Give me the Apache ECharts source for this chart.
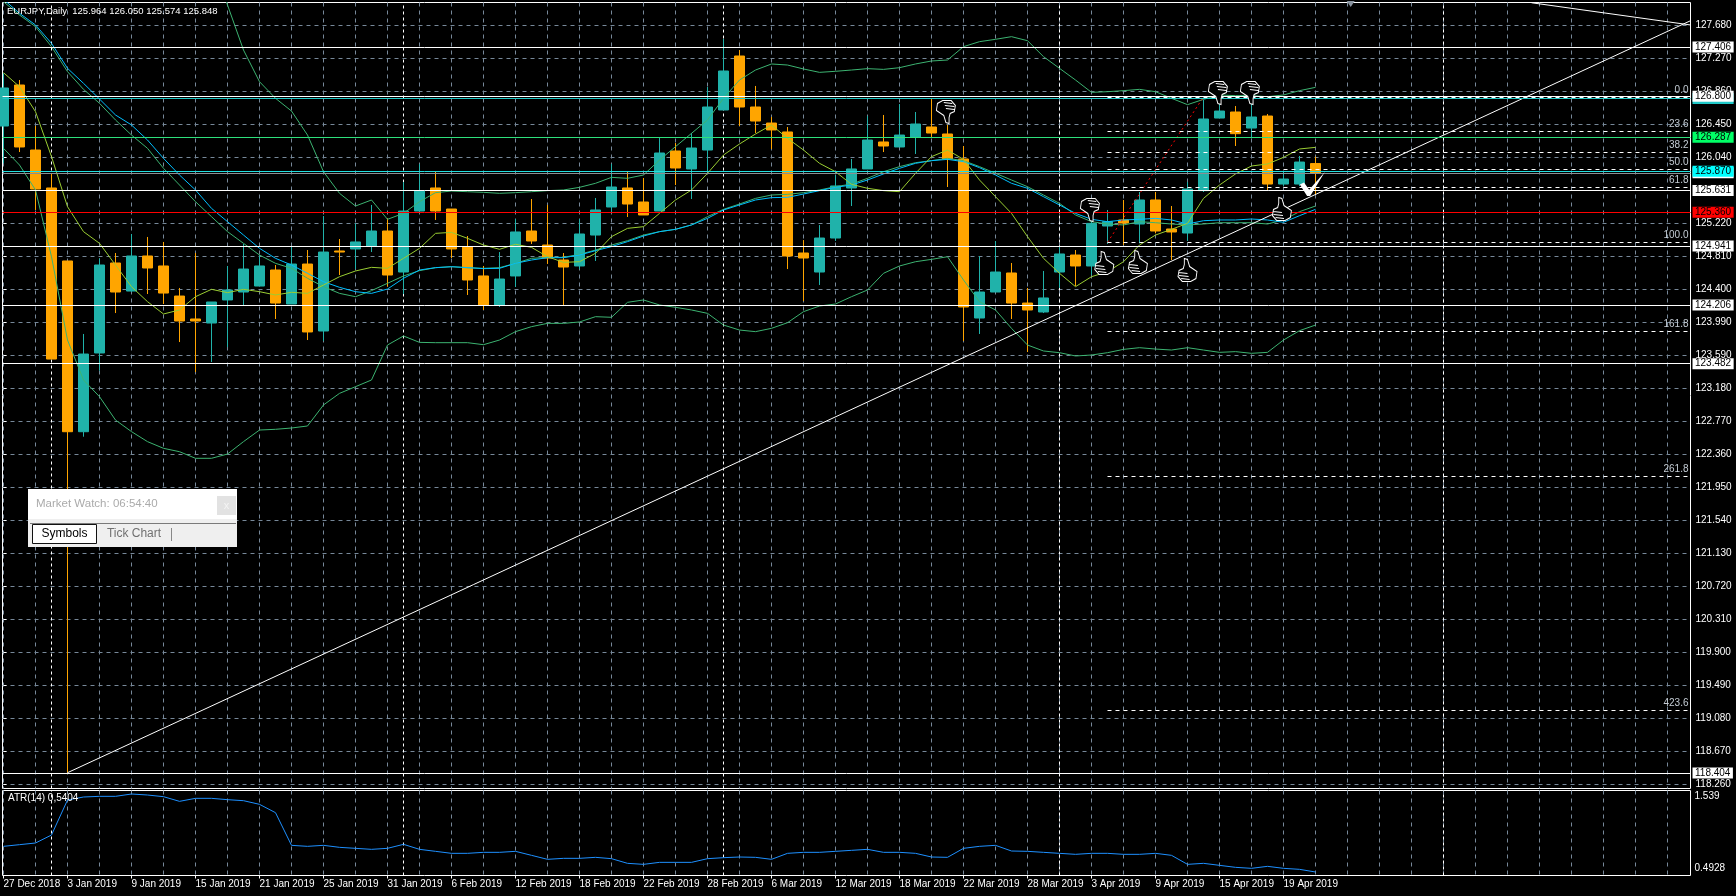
<!DOCTYPE html>
<html><head><meta charset="utf-8"><title>EURJPY,Daily</title>
<style>html,body{margin:0;padding:0;background:#000}#c{width:1736px;height:896px}</style>
<script src="https://cdn.jsdelivr.net/npm/echarts@6/dist/echarts.min.js"></script></head>
<body><div id="c"></div><script>
const dateLabels=['27 Dec 2018','3 Jan 2019','9 Jan 2019','15 Jan 2019','21 Jan 2019','25 Jan 2019','31 Jan 2019','6 Feb 2019','12 Feb 2019','18 Feb 2019','22 Feb 2019','28 Feb 2019','6 Mar 2019','12 Mar 2019','18 Mar 2019','22 Mar 2019','28 Mar 2019','3 Apr 2019','9 Apr 2019','15 Apr 2019','19 Apr 2019'];
const priceTicks=[127.68,127.27,126.86,126.45,126.04,125.63,125.22,124.81,124.40,123.99,123.59,123.18,122.77,122.36,121.95,121.54,121.13,120.72,120.31,119.90,119.49,119.08,118.67,118.26];
const atrTicks=[1.539,0.4928];
const candleOpen=[126.430,126.939,126.132,125.661,124.755,122.636,123.613,124.730,124.382,124.817,124.693,124.320,124.035,123.985,124.271,124.370,124.444,124.643,124.221,124.717,123.886,124.879,124.904,124.941,125.127,124.618,125.375,125.661,125.400,124.928,124.569,124.209,124.569,125.127,124.953,124.767,124.693,125.077,125.425,125.661,125.487,125.375,126.120,125.897,126.132,126.629,127.299,126.666,126.467,126.356,124.854,124.618,125.040,125.661,125.897,126.232,126.170,126.294,126.418,126.331,126.021,124.047,124.370,124.606,124.233,124.122,124.618,124.829,124.693,125.189,125.264,125.214,125.512,125.152,125.102,125.628,126.529,126.604,126.405,126.554,125.710,125.710,125.964];
const candleClose=[126.902,126.170,125.648,123.538,122.636,123.600,124.705,124.370,124.817,124.668,124.357,124.010,124.010,124.246,124.395,124.655,124.693,124.233,124.717,123.874,124.866,124.866,124.991,125.127,124.581,125.375,125.628,125.375,124.904,124.519,124.209,124.531,125.115,125.003,124.792,124.680,125.090,125.388,125.673,125.462,125.326,126.095,125.909,126.157,126.666,127.113,126.666,126.492,126.381,124.817,124.792,125.040,125.686,125.897,126.256,126.182,126.318,126.455,126.343,126.021,124.184,124.370,124.618,124.233,124.147,124.296,124.842,124.693,125.222,125.243,125.226,125.512,125.127,125.115,125.648,126.517,126.616,126.335,126.542,125.710,125.772,125.983,125.848];
const candleLow=[125.967,126.107,125.388,123.538,118.404,122.574,123.394,124.109,124.370,124.345,124.221,123.749,123.377,123.501,123.687,124.209,124.444,124.035,124.221,123.774,123.762,124.581,124.655,124.866,124.436,124.345,125.375,125.264,124.792,124.333,124.147,124.184,124.432,124.966,124.718,124.209,124.655,124.755,125.363,125.301,125.326,125.375,125.698,125.524,125.872,126.629,126.430,126.343,126.145,124.655,124.258,124.457,125.003,125.437,125.897,126.107,126.170,126.083,126.294,125.673,123.762,123.849,124.370,124.035,123.625,124.109,124.420,124.444,124.581,124.966,124.953,124.974,125.098,124.767,125.003,125.611,126.529,126.182,126.277,125.636,125.686,125.686,125.574];
const candleHigh=[127.084,127.001,126.430,125.843,124.755,123.849,124.788,124.854,125.090,125.053,124.991,124.420,124.854,124.246,124.693,124.966,124.829,124.705,124.933,124.891,125.313,125.028,125.222,125.450,125.284,125.735,125.959,125.859,125.400,125.065,124.693,124.866,125.276,125.524,125.450,124.854,125.276,125.537,125.959,125.859,125.785,126.281,126.219,126.343,126.914,127.510,127.373,126.927,126.542,126.418,125.015,125.201,125.822,126.021,126.554,126.567,126.703,126.604,126.778,126.443,126.182,124.817,125.003,124.730,124.420,124.631,124.933,124.891,125.388,125.388,125.512,125.611,125.611,125.437,125.735,126.753,126.815,126.678,126.898,126.579,125.863,126.058,126.050];
const fastMA=[127.092,126.918,126.608,126.050,125.429,125.119,124.974,124.705,124.436,124.250,124.097,124.147,124.312,124.403,124.362,124.403,124.374,124.333,124.366,124.353,124.457,124.560,124.631,124.676,124.664,124.788,124.912,125.098,125.110,125.036,124.953,124.900,124.962,124.924,124.808,124.738,124.746,124.850,125.057,125.160,125.181,125.346,125.512,125.636,125.843,126.070,126.207,126.331,126.443,126.277,126.132,125.967,125.863,125.706,125.657,125.628,125.615,125.843,126.050,126.132,126.016,125.760,125.553,125.346,125.057,124.788,124.602,124.436,124.560,124.622,124.746,124.953,125.077,125.148,125.222,125.532,125.698,125.835,125.934,125.959,126.041,126.145,126.165];
const slowMA=[128.002,127.829,127.684,127.456,127.146,126.960,126.765,126.567,126.443,126.256,126.029,125.822,125.636,125.408,125.243,125.077,124.912,124.788,124.705,124.602,124.498,124.428,124.374,124.353,124.407,124.540,124.643,124.672,124.684,124.672,124.660,124.664,124.726,124.767,124.796,124.796,124.829,124.883,124.933,124.995,125.065,125.119,125.148,125.202,125.284,125.388,125.450,125.512,125.541,125.545,125.586,125.628,125.669,125.698,125.760,125.835,125.905,125.967,126.000,126.016,125.988,125.913,125.822,125.719,125.657,125.553,125.450,125.346,125.272,125.243,125.264,125.272,125.284,125.264,125.214,125.255,125.264,125.264,125.276,125.264,125.235,125.317,125.396];
const bandMid=[127.973,127.808,127.663,127.415,127.105,126.885,126.712,126.505,126.318,126.153,125.905,125.698,125.491,125.305,125.119,124.974,124.829,124.726,124.664,124.540,124.436,124.353,124.312,124.387,124.478,124.569,124.635,124.672,124.684,124.672,124.664,124.672,124.726,124.788,124.800,124.800,124.837,124.891,124.953,125.007,125.077,125.119,125.148,125.202,125.305,125.396,125.462,125.532,125.574,125.582,125.603,125.636,125.677,125.710,125.781,125.863,125.926,125.975,126.000,126.029,126.000,125.926,125.843,125.760,125.677,125.574,125.470,125.326,125.243,125.214,125.202,125.243,125.230,125.214,125.202,125.214,125.230,125.230,125.230,125.214,125.264,125.367,125.437];
const bandUpper=[null,null,null,null,null,null,null,null,null,null,null,null,null,128.470,127.932,127.373,126.980,126.774,126.616,126.318,125.863,125.595,125.437,125.512,125.272,125.346,125.491,125.603,125.623,125.615,125.607,125.595,125.603,125.615,125.628,125.636,125.669,125.719,125.793,125.781,125.822,126.008,126.174,126.339,126.505,126.774,127.001,127.125,127.200,127.187,127.138,127.096,127.109,127.125,127.142,127.133,127.154,127.200,127.237,127.249,127.415,127.477,127.506,127.539,127.489,127.291,127.146,127.001,126.848,126.856,126.869,126.885,126.856,126.774,126.695,126.761,126.815,126.807,126.807,126.794,126.815,126.869,126.910];
const bandLower=[126.153,125.946,125.636,124.808,123.774,123.278,123.071,122.781,122.637,122.513,122.430,122.388,122.306,122.306,122.359,122.513,122.657,122.666,122.682,122.707,122.968,123.112,123.195,123.278,123.712,123.824,123.745,123.741,123.741,123.741,123.716,123.774,123.878,123.940,123.981,123.981,123.998,124.064,124.056,124.242,124.271,124.209,124.180,124.147,124.105,123.960,123.898,123.878,123.919,123.989,124.126,124.196,124.221,124.312,124.395,124.602,124.693,124.746,124.775,124.808,124.519,124.250,124.147,123.919,123.712,123.638,123.617,123.576,123.588,123.617,123.658,123.679,123.662,123.650,123.679,123.650,123.621,123.630,123.609,123.621,123.774,123.890,123.960];
const atrValues=[.8159,.8400,.8640,.9797,1.4854,1.5288,1.5384,1.5384,1.5721,1.5577,1.5336,1.4662,1.5095,1.5095,1.4903,1.4758,1.4228,1.3024,.8303,.8159,.8303,.8014,.7870,.7725,.7870,.8448,.7725,.7436,.7147,.7147,.7292,.7292,.7436,.6858,.6280,.6425,.6425,.6569,.6377,.5702,.5557,.5846,.5846,.5846,.6377,.6521,.6617,.6569,.6280,.7147,.7292,.7292,.7436,.7581,.7725,.7292,.7292,.7147,.6617,.6569,.7870,.8159,.8303,.7484,.7436,.7292,.7147,.7003,.7147,.7147,.7003,.7003,.7147,.6858,.5557,.5702,.5413,.5124,.4980,.5269,.4980,.4835,.4450];
const periodSeparators=[3,25,45,66,90];
const whiteLevels=[127.406,126.800,125.631,124.941,124.206,123.482,118.404];
const fibLevels=[126.790,126.364,126.104,125.893,125.669,124.987,123.882,122.083,119.178];
const fibNames=['0.0','23.6','38.2','50.0','61.8','100.0','161.8','261.8','423.6'];
const fibRange=[[69,124.987],[75,126.790]];
const trendUp=[[4,118.404],[105.44,127.737]];
const trendDown=[[95.5,127.960],[105.44,127.684]];
const thumbsDown=[[58.9,126.604],[67.9,125.388],[75.9,126.840],[77.9,126.840]];
const thumbsUp=[[68.8,124.730],[70.9,124.742],[74,124.643],[79.9,125.400]];
const checkMark=[[81.8,125.710]];
const topArrow=[[84.2,127.944]];

const FONT='"Liberation Sans",sans-serif';
const FS=10;
const GRID='#778899';
const X_MIN=-0.0625,X_MAX=105.4375;
const evenTicks=[];for(let i=0;i<=104;i+=2)evenTicks.push(i);
const labelTicks=dateLabels.map((_,i)=>i*4);
const ohlc=candleOpen.map((o,i)=>[i,o,candleClose[i],candleLow[i],candleHigh[i]]);
const pts=a=>a.map((v,i)=>[i,v]);
const THUMB='path://M6 0L9 1L11 8L18 13L17 20L12 23L4 23L0 18L1 12L5 10L6 6ZM1 14L9 15M1 17L10 18M3 20L11 21';
const TICK='path://M0 12L4 10L9 17L24 0L10 23L7 23Z';

function line(name,data,color,z,extra){return Object.assign({name,type:'line',data,symbol:'none',showSymbol:false,silent:true,z:z||4,clip:true,lineStyle:{color,width:1},connectNulls:false},extra||{});}
function level(value,lineColor,bg,txt){
  return {yAxis:value,lineStyle:{color:lineColor,width:1,type:'solid'},label:{show:true,position:'end',distance:2,formatter:value.toFixed(3),color:txt||'#000',backgroundColor:bg,padding:[0,2.5,0,2.5],lineHeight:11,fontSize:FS,fontFamily:FONT}};
}
const levels=whiteLevels.map(v=>level(v,'#fff','#fff'));
const option={
 backgroundColor:'#000',animation:false,
 title:[
  {text:'EURJPY,Daily  125.964 126.050 125.574 125.848',left:7,top:5,padding:0,textStyle:{color:'#fff',fontSize:9.5,fontWeight:'normal',fontFamily:FONT,lineHeight:12}},
  {text:'ATR(14) 0,5404',left:8,top:792,padding:0,textStyle:{color:'#fff',fontSize:FS,fontWeight:'normal',fontFamily:FONT,lineHeight:12}}
 ],
 grid:[
  {left:2.5,top:2.5,width:1688,height:786,show:true,borderColor:'#fff',borderWidth:1,backgroundColor:'#000'},
  {left:2.5,top:790.5,width:1688,height:85,show:true,borderColor:'#fff',borderWidth:1,backgroundColor:'#000'}
 ],
 xAxis:[
  {type:'value',gridIndex:0,min:X_MIN,max:X_MAX,axisLine:{show:false},axisTick:{show:false,customValues:evenTicks},axisLabel:{show:false,customValues:evenTicks},splitLine:{show:true,lineStyle:{color:GRID,type:[4,4],width:1}}},
  {type:'value',gridIndex:1,min:X_MIN,max:X_MAX,axisLine:{show:false},axisTick:{show:false,customValues:evenTicks},axisLabel:{show:false,customValues:evenTicks},splitLine:{show:true,lineStyle:{color:GRID,type:[4,4],width:1}}},
  {type:'value',gridIndex:1,position:'bottom',min:X_MIN,max:X_MAX,axisLine:{show:false},axisTick:{show:true,length:3,inside:false,customValues:labelTicks,lineStyle:{color:'#fff'}},
   axisLabel:{show:true,customValues:labelTicks,margin:4,align:'left',color:'#fff',fontSize:FS,fontFamily:FONT,hideOverlap:false,showMinLabel:true,showMaxLabel:true,formatter:v=>dateLabels[Math.round(v/4)]||''},splitLine:{show:false}}
 ],
 yAxis:[
  {type:'value',gridIndex:0,position:'right',min:118.208,max:127.963,axisLine:{show:false},axisTick:{show:true,length:3,customValues:priceTicks,lineStyle:{color:'#fff'}},
   axisLabel:{customValues:priceTicks,margin:5,padding:[2,0,0,0],color:'#fff',fontSize:FS,fontFamily:FONT,align:'left',hideOverlap:false,showMinLabel:true,showMaxLabel:true,formatter:v=>v.toFixed(3)},splitLine:{show:true,lineStyle:{color:GRID,type:[4,4],width:1}}},
  {type:'value',gridIndex:1,position:'right',min:0.3945,max:1.6228,axisLine:{show:false},axisTick:{show:false,customValues:atrTicks},
   axisLabel:{customValues:atrTicks,margin:4,color:'#fff',fontSize:FS,fontFamily:FONT,align:'left',hideOverlap:false,formatter:v=>String(v)},splitLine:{show:false}}
 ],
 series:[
  {name:'EURJPY',type:'candlestick',xAxisIndex:0,yAxisIndex:0,z:3,silent:true,barWidth:10,data:ohlc,clip:true,
   encode:{x:0,y:[1,2,3,4]},
   itemStyle:{color:'#20B2AA',color0:'#FFA500',borderColor:'#20B2AA',borderColor0:'#FFA500',borderWidth:1}},
  line('separators',[],'#fff',1,{markLine:{silent:true,symbol:'none',z:1,animation:false,label:{show:false},lineStyle:{color:'#fff',type:[3,3],width:1},data:periodSeparators.map(x=>({xAxis:x}))}}),
  line('atrSeparators',[],'#fff',1,{xAxisIndex:1,yAxisIndex:1,markLine:{silent:true,symbol:'none',z:1,animation:false,label:{show:false},lineStyle:{color:'#fff',type:[3,3],width:1},data:periodSeparators.map(x=>({xAxis:x}))}}),
  line('BB upper',pts(bandUpper),'#3CB371'),
  line('BB lower',pts(bandLower),'#3CB371'),
  line('BB mid',pts(bandMid),'#3CB371'),
  line('Slow MA',pts(slowMA),'#00BFFF'),
  line('Fast MA',pts(fastMA),'#9ACD32'),
  line('Fib range',fibRange,'#FF0000',5,{lineStyle:{color:'#FF0000',width:1,type:[2,3]}}),
  line('Trend up',trendUp,'#fff',5),
  line('Trend down',trendDown,'#fff',5),
  line('levels',[],'#fff',5,{markLine:{silent:true,symbol:'none',z:6,animation:false,data:[
    level(126.767,'#20C8C8','#20C8C8'),
    level(125.848,'#8A8F94','#fff'),
    ...levels,
    level(125.870,'#20E0E0','#00FFFF'),
    level(126.287,'#2EE07C','#00FF66'),
    level(125.360,'#FF0000','#FF0000')
  ]}}),
  line('Fibonacci',[],'#fff',5,{markLine:{silent:true,symbol:'none',z:6,animation:false,data:fibLevels.map((v,i)=>[
    {coord:[69,v],lineStyle:{color:'#fff',type:[4,4],width:1},label:{show:true,position:'insideEndTop',distance:2,formatter:fibNames[i],color:'#C4CCD4',fontSize:FS,fontFamily:FONT}},
    {coord:[X_MAX,v]}
  ])}}),
  {name:'Thumb up',type:'scatter',z:7,silent:true,symbol:THUMB,symbolSize:[19,23],itemStyle:{color:'#000',borderColor:'#fff',borderWidth:1,opacity:1},data:thumbsUp},
  {name:'Thumb down',type:'scatter',z:7,silent:true,symbol:THUMB,symbolRotate:180,symbolSize:[19,23],itemStyle:{color:'#000',borderColor:'#fff',borderWidth:1,opacity:1},data:thumbsDown},
  {name:'Check',type:'scatter',z:7,silent:true,symbol:TICK,symbolSize:[25,24],itemStyle:{color:'#fff',opacity:1},data:checkMark},
  {name:'Arrow',type:'scatter',z:7,silent:true,symbol:'triangle',symbolRotate:180,symbolSize:[8,6],itemStyle:{color:'#8A94A0',opacity:1},data:topArrow},
  line('ATR(14)',pts(atrValues),'#1E90FF',4,{xAxisIndex:1,yAxisIndex:1})
 ],
 graphic:[
   {type:'rect',z:100,silent:true,shape:{x:28,y:489,width:209,height:58},style:{fill:'#fff'}},
   {type:'rect',z:101,silent:true,shape:{x:28,y:519,width:209,height:28},style:{fill:'#EFEFEF'}},
   {type:'rect',z:101,silent:true,shape:{x:217,y:496,width:19,height:19},style:{fill:'#E2E2E2'}},
   {type:'text',z:102,silent:true,style:{x:226.5,y:505.5,text:'x',fill:'#F4F4F4',font:'11px "Liberation Sans"',align:'center',verticalAlign:'middle'}},
   {type:'text',z:102,silent:true,style:{x:36,y:504,text:'Market Watch: 06:54:40',fill:'#ABABAB',font:'11.5px "Liberation Sans"',verticalAlign:'middle'}},
   {type:'line',z:102,silent:true,shape:{x1:30,y1:523.5,x2:236,y2:523.5},style:{stroke:'#7A7A7A',lineWidth:1}},
   {type:'rect',z:102,silent:true,shape:{x:32.5,y:524.5,width:64,height:19},style:{fill:'#fff',stroke:'#111',lineWidth:1}},
   {type:'text',z:103,silent:true,style:{x:64.5,y:534,text:'Symbols',fill:'#000',font:'12px "Liberation Sans"',align:'center',verticalAlign:'middle'}},
   {type:'text',z:103,silent:true,style:{x:134,y:534,text:'Tick Chart',fill:'#707070',font:'12px "Liberation Sans"',align:'center',verticalAlign:'middle'}},
   {type:'line',z:103,silent:true,shape:{x1:171.5,y1:528,x2:171.5,y2:541},style:{stroke:'#888',lineWidth:1}}
 ]
};
echarts.init(document.getElementById('c'),null,{renderer:'canvas'}).setOption(option);
</script></body></html>
